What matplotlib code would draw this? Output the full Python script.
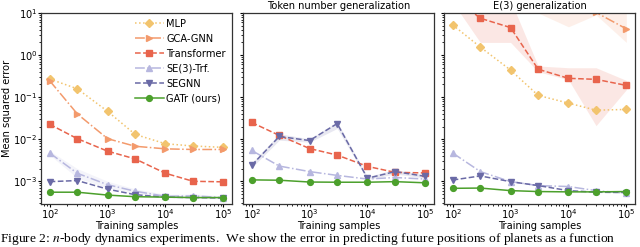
import numpy as np
import matplotlib
matplotlib.use("Agg")
import matplotlib.pyplot as plt

samples = [1e2, 3e2, 1e3, 3e3, 1e4, 3e4, 1e5]

labels = ["MLP", "GCA-GNN", "Transformer", "SE(3)-Trf.", "SEGNN", "GATr (ours)"]
colors = ["#f2c46e", "#f39a6c", "#e8644c", "#b7b7df", "#6a6aa6", "#4ca02c"]
markers = ["D", ">", "s", "^", "v", "o"]
linestyles = [":", "-.", "--", "-.", "--", "-"]

# Panel 1: in-distribution
p1 = {
    "MLP":         [0.27, 0.158, 0.046, 0.013, 0.0078, 0.0069, 0.0064],
    "GCA-GNN":     [0.245, 0.040, 0.0103, 0.0068, 0.0059, 0.0057, 0.0057],
    "Transformer": [0.0226, 0.0103, 0.0052, 0.0034, 0.00155, 0.0010, 0.00097],
    "SE(3)-Trf.":  [0.0047, 0.00155, 0.00083, 0.00058, 0.00044, 0.00045, 0.00041],
    "SEGNN":       [0.00098, 0.00104, 0.00065, 0.00048, 0.00042, 0.00041, 0.00040],
    "GATr (ours)": [0.00055, 0.00055, 0.00047, 0.00043, 0.00042, 0.00041, 0.00041],
}
# Panel 2: token number generalization
p2 = {
    "Transformer": [0.025, 0.0123, 0.0060, 0.0042, 0.00226, 0.00163, 0.00158],
    "SE(3)-Trf.":  [0.0054, 0.0023, 0.0017, 0.00138, 0.00113, 0.00123, 0.00113],
    "SEGNN":       [0.0024, 0.0116, 0.0093, 0.0235, 0.00118, 0.0017, 0.00131],
    "GATr (ours)": [0.00108, 0.00106, 0.00096, 0.00095, 0.00095, 0.00098, 0.00092],
}
# Panel 3: E(3) generalization
p3 = {
    "MLP":         [5.2, 1.55, 0.44, 0.11, 0.072, 0.049, 0.051],
    "GCA-GNN":     [80.0, 70.0, 60.0, 50.0, 35.0, 10.3, 4.2],
    "Transformer": [25.0, 7.5, 4.5, 0.46, 0.28, 0.265, 0.19],
    "SE(3)-Trf.":  [0.0047, 0.0017, 0.00098, 0.00079, 0.00075, 0.0006, 0.00052],
    "SEGNN":       [0.00107, 0.00134, 0.00098, 0.00079, 0.0006, 0.00055, 0.00054],
    "GATr (ours)": [0.00068, 0.00069, 0.0006, 0.00057, 0.00056, 0.00056, 0.00057],
}

# uncertainty bands (lower, upper)
bands1 = {
    "SE(3)-Trf.": ([0.0042, 0.0012, 0.0007, 0.0005, 0.0004, 0.0004, 0.00038],
                   [0.0053, 0.0020, 0.0010, 0.00066, 0.00049, 0.0005, 0.00045]),
}
bands2 = {
    "SEGNN": ([0.0021, 0.0095, 0.0085, 0.018, 0.0011, 0.0015, 0.0012],
              [0.0027, 0.0135, 0.0102, 0.026, 0.0013, 0.0019, 0.0014]),
}
bands3 = {
    "Transformer": ([18.0, 2.0, 2.0, 0.40, 0.26, 0.021, 0.15],
                    [40.0, 20.0, 20.0, 0.55, 0.50, 0.50, 0.25]),
    "GCA-GNN": ([60.0, 50.0, 40.0, 10.0, 4.7, 9.0, 2.0],
                [100.0, 90.0, 80.0, 70.0, 60.0, 40.0, 20.0]),
}

titles = ["", "Token number generalization", "E(3) generalization"]
xticks = [1e2, 1e3, 1e4, 1e5]
yticks = [1e-3, 1e-2, 1e-1, 1e0, 1e1]

W, H = 640, 247
fig = plt.figure(figsize=(6.4, 2.47), dpi=100)
lefts = [41, 243, 444]
width = 191
bottom, top = 204, 13
axes = []
for i, l in enumerate(lefts):
    ax = fig.add_axes([l / W, 1 - bottom / H, width / W, (bottom - top) / H],
                      sharey=axes[0] if axes else None)
    axes.append(ax)

fs = 7.1
for i, (ax, data, bands) in enumerate(zip(axes, [p1, p2, p3], [bands1, bands2, bands3])):
    for lab, col, mk, ls in zip(labels, colors, markers, linestyles):
        if lab in bands:
            lo, hi = bands[lab]
            ax.fill_between(samples, lo, hi, color=col, alpha=0.15, lw=0)
        if lab in data:
            ax.plot(samples, data[lab], color=col, marker=mk, ls=ls, lw=1.1,
                    ms=4.2, label=lab, clip_on=True)
        else:
            ax.plot([], [], color=col, marker=mk, ls=ls, lw=1.1, ms=4.2, label=lab)
    ax.set_xscale("log")
    ax.set_yscale("log")
    ax.set_xlim(10 ** 1.85, 10 ** 5.15)
    ax.set_ylim(10 ** -3.54, 10)
    ax.set_xticks(xticks)
    ax.tick_params(labelsize=fs, length=2.2, width=0.8, pad=0.3)
    ax.tick_params(which="minor", length=1.5, width=0.6)
    ax.set_xlabel("Training samples", fontsize=fs, labelpad=-0.2)
    if titles[i]:
        ax.set_title(titles[i], fontsize=fs, pad=3)
    for sp in ax.spines.values():
        sp.set_color("#333333")
        sp.set_linewidth(0.9)
    if i > 0:
        ax.tick_params(labelleft=False)

axes[0].set_yticks(yticks)
axes[0].set_ylabel("Mean squared error", fontsize=fs, labelpad=1)
axes[0].legend(loc="upper right", fontsize=fs, frameon=False, handlelength=2.9,
               borderaxespad=0.2, labelspacing=0.5, handletextpad=0.3)

fig.text(0.0, 0.0, "Figure 2: $n$-body dynamics experiments.  We show the error in predicting future positions of planets as a function",
         family="Liberation Serif", math_fontfamily="stix", fontsize=9.7, ha="left", va="bottom")

fig.savefig("out.png", dpi=100)
